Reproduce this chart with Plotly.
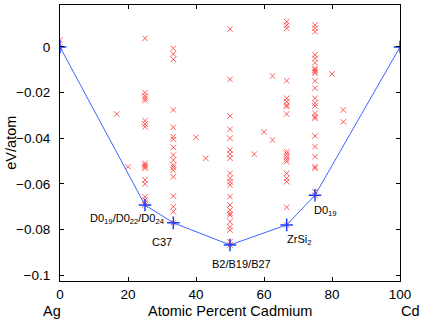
import plotly.graph_objects as go

# ---- data ----
red_x = (
    [0, 0]
    + [16.67]
    + [20]
    + [25] * 18
    + [33.33] * 18
    + [40]
    + [42.86]
    + [50] * 22
    + [57.14]
    + [60]
    + [62.5] * 2
    + [66.67] * 19
    + [75] * 25
    + [80]
    + [83.33] * 2
)
red_y = (
    [0.0031, 0.0]
    + [-0.0294]
    + [-0.0525]
    + [0.0038, -0.0200, -0.0214, -0.0225, -0.0235, -0.0323, -0.0338, -0.0350, -0.0510,
       -0.0518, -0.0525, -0.0532, -0.0583, -0.0600, -0.0657, -0.0671, -0.0683, -0.0693]
    + [-0.0006, -0.0031, -0.0054, -0.0276, -0.0352, -0.0393, -0.0405, -0.0440, -0.0474,
       -0.0496, -0.0518, -0.0528, -0.0540, -0.0569, -0.0654, -0.0700, -0.0722, -0.0771]
    + [-0.0396]
    + [-0.0488]
    + [0.0078, -0.0142, -0.0303, -0.0361, -0.0400, -0.0452, -0.0470, -0.0488, -0.0554,
       -0.0576, -0.0591, -0.0605, -0.0656, -0.0693, -0.0715, -0.0730, -0.0737, -0.0766,
       -0.0788, -0.0803, -0.0854, -0.0868]
    + [-0.0470]
    + [-0.0372]
    + [-0.0127, -0.0408]
    + [0.0111, 0.0096, 0.0082, -0.0148, -0.0225, -0.0240, -0.0254, -0.0262, -0.0294,
       -0.0459, -0.0469, -0.0481, -0.0493, -0.0503, -0.0554, -0.0576, -0.0591, -0.0703,
       -0.0780]
    + [0.0096, 0.0082, 0.0067, -0.0035, -0.0050, -0.0069, -0.0094, -0.0101, -0.0108,
       -0.0115, -0.0148, -0.0181, -0.0225, -0.0247, -0.0259, -0.0291, -0.0306, -0.0313,
       -0.0390, -0.0437, -0.0481, -0.0525, -0.0532, -0.0635, -0.0650]
    + [-0.0118]
    + [-0.0276, -0.0328]
)

hull_x = [0, 25, 33.33, 50, 66.67, 75, 100]
hull_y = [0, -0.0693, -0.0771, -0.0868, -0.0780, -0.0650, 0]

x_ticks = [0, 20, 40, 60, 80, 100]
x_tick_labels = ["0", "20", "40", "60", "80", "100"]
y_ticks = [0, -0.02, -0.04, -0.06, -0.08, -0.1]
y_tick_labels = ["0", "\u22120.02", "\u22120.04", "\u22120.06", "\u22120.08", "\u22120.1"]

phase_labels = ["FCC", "D0<sub>19</sub>/D0<sub>22</sub>/D0<sub>24</sub>", "C37",
                "B2/B19/B27", "ZrSi<sub>2</sub>", "D0<sub>19</sub>", "HCP"]

FONT = "Liberation Sans, Arial, sans-serif"

fig = go.Figure()
fig.add_trace(go.Scatter(
    x=red_x, y=red_y, mode="markers",
    marker=dict(symbol="x-thin", size=5.5, line=dict(color="rgba(255,40,40,0.75)", width=1)),
    showlegend=False, hoverinfo="skip"))
fig.add_trace(go.Scatter(
    x=hull_x, y=hull_y, mode="lines+markers",
    line=dict(color="#3f64ff", width=1),
    marker=dict(symbol="cross-thin", size=9, line=dict(color="#1a3cff", width=1.5)),
    showlegend=False, hoverinfo="skip"))

# label positions (data coordinates)
label_pos = [(-6.3, -0.0083), (19.9, -0.0752), (30.0, -0.0854), (53.5, -0.0952),
             (70.4, -0.0848), (78.1, -0.0718), (105.3, -0.0080)]
annotations = []
for txt, (lx, ly) in zip(phase_labels, label_pos):
    annotations.append(dict(x=lx, y=ly, xref="x", yref="y", text=txt, showarrow=False,
                            xanchor="center", yanchor="middle",
                            font=dict(family=FONT, size=11, color="black")))

annotations += [
    dict(x=0.5, y=-0.11, xref="paper", yref="paper", text="Atomic Percent Cadmium",
         showarrow=False, xanchor="center", yanchor="middle",
         font=dict(family=FONT, size=14.5, color="black")),
    dict(x=-0.023, y=-0.11, xref="paper", yref="paper", text="Ag",
         showarrow=False, xanchor="center", yanchor="middle",
         font=dict(family=FONT, size=14.5, color="black")),
    dict(x=1.03, y=-0.11, xref="paper", yref="paper", text="Cd",
         showarrow=False, xanchor="center", yanchor="middle",
         font=dict(family=FONT, size=14.5, color="black")),
    dict(x=-0.145, y=0.5, xref="paper", yref="paper", text="eV/atom", textangle=-90,
         showarrow=False, xanchor="center", yanchor="middle",
         font=dict(family=FONT, size=14.5, color="black")),
]

fig.update_layout(
    width=436, height=321,
    margin=dict(l=60, r=36, t=5, b=40),
    paper_bgcolor="white", plot_bgcolor="white",
    font=dict(family=FONT, size=13.5, color="black"),
    annotations=annotations,
    xaxis=dict(range=[0, 100], tickvals=x_ticks, ticktext=x_tick_labels,
               ticks="inside", ticklen=4, tickcolor="black", showgrid=False,
               zeroline=False, showline=True, linecolor="black", linewidth=1.2,
               mirror="ticks", ticklabelstandoff=1),
    yaxis=dict(range=[-0.1026, 0.0184], tickvals=y_ticks, ticktext=y_tick_labels,
               ticks="inside", ticklen=4, tickcolor="black", showgrid=False,
               zeroline=False, showline=True, linecolor="black", linewidth=1.2,
               mirror="ticks", ticklabelstandoff=6),
)

fig.write_html(
    "out.html",
    config={"displayModeBar": False},
    post_script="document.body.style.margin='0';document.body.style.overflow='hidden';",
)
